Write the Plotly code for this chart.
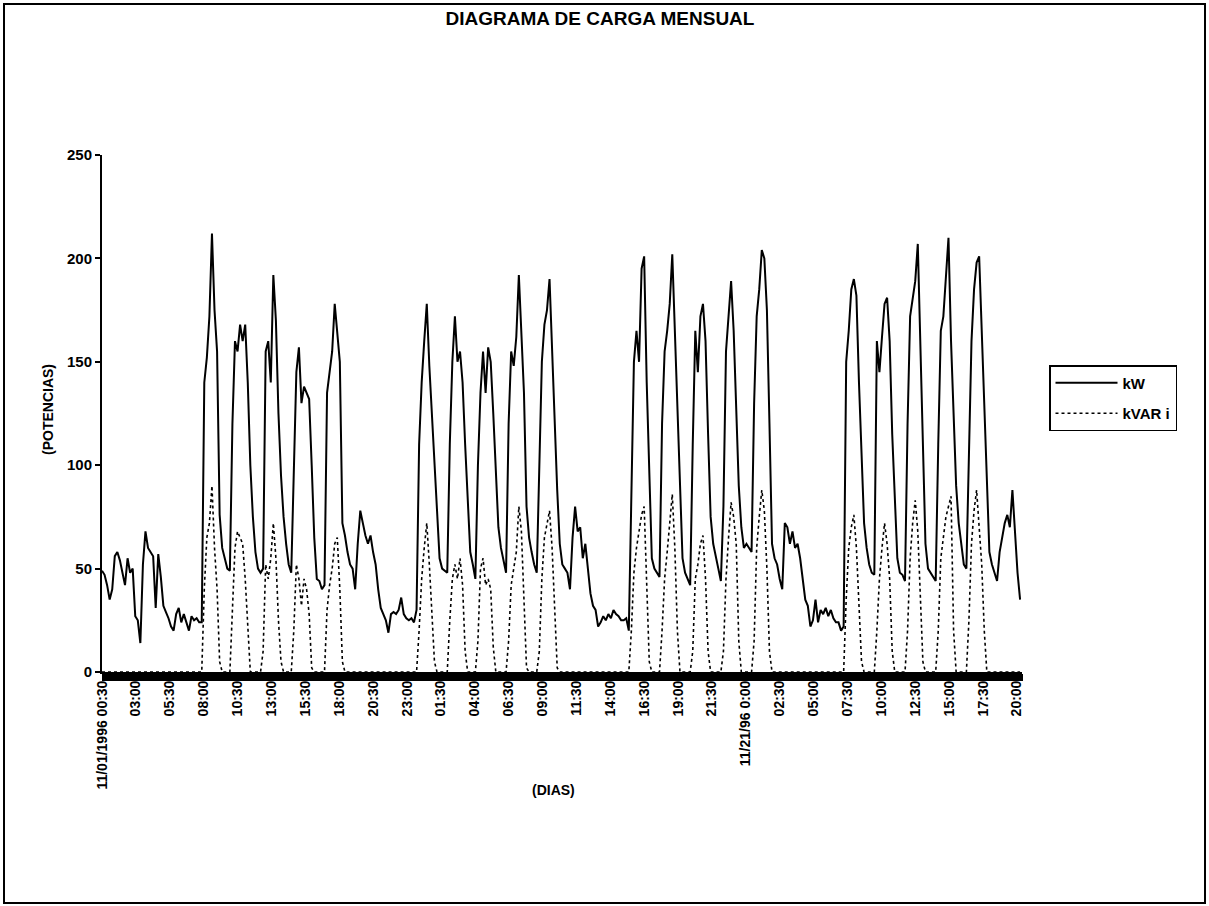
import datetime as dt
import plotly.graph_objects as go

# ---------------- data (2-hour samples, 00:30, 02:30, ... 22:30 each day) ----------------
# kW by week (days 11/01 .. 11/30)
kw_w1 = [
    49, 47, 42, 35, 40, 56, 58, 54, 48, 42, 55, 48,      # 11/01
    50, 27, 25, 14, 52, 68, 60, 58, 56, 31, 57, 46,      # 11/02
    32, 29, 26, 22, 20, 28, 31, 24, 28, 24, 20, 27,      # 11/03
    25, 26, 24, 24, 140, 152, 172, 212, 175, 155, 76, 60,  # 11/04
    55, 50, 49, 120, 160, 155, 168, 160, 168, 140, 100, 75,  # 11/05
    58, 50, 48, 50, 155, 160, 140, 192, 170, 125, 95, 75,  # 11/06
    62, 52, 48, 100, 145, 157, 130, 138, 135, 132, 100, 65,  # 11/07
]
kw_w2 = [
    45, 44, 40, 42, 135, 145, 155, 178, 165, 150, 72, 66,  # 11/08
    58, 52, 50, 40, 62, 78, 72, 66, 62, 66, 58, 52,        # 11/09
    40, 31, 28, 25, 19, 28, 29, 28, 30, 36, 28, 26,        # 11/10
    25, 26, 24, 30, 110, 140, 160, 178, 148, 124, 100, 75,  # 11/11
    55, 50, 49, 48, 110, 150, 172, 150, 155, 140, 110, 80,  # 11/12
    58, 52, 45, 100, 135, 155, 135, 157, 150, 125, 95, 70,  # 11/13
    60, 54, 48, 120, 155, 148, 162, 192, 165, 135, 80, 65,  # 11/14
]
kw_w3 = [
    58, 52, 48, 100, 150, 168, 175, 190, 155, 125, 88, 62,  # 11/15
    52, 50, 48, 40, 65, 80, 68, 70, 55, 62, 50, 38,        # 11/16
    32, 30, 22, 24, 27, 25, 28, 26, 30, 28, 27, 25,        # 11/17
    25, 26, 20, 80, 150, 165, 150, 195, 201, 140, 100, 55,  # 11/18
    50, 48, 46, 120, 155, 165, 178, 202, 165, 120, 85, 55,  # 11/19
    48, 45, 42, 110, 165, 145, 172, 178, 160, 115, 75, 62,  # 11/20
    55, 50, 44, 80, 155, 172, 189, 165, 130, 90, 70, 60,   # 11/21
]
kw_w4 = [
    62, 60, 58, 130, 172, 185, 204, 200, 175, 120, 62, 55,  # 11/22
    52, 45, 40, 72, 70, 62, 68, 60, 62, 55, 45, 35,        # 11/23
    32, 22, 25, 35, 24, 30, 28, 31, 27, 30, 26, 24,        # 11/24
    24, 20, 22, 150, 165, 185, 190, 182, 140, 105, 72, 60,  # 11/25
    52, 48, 47, 160, 145, 162, 178, 181, 160, 115, 80, 55,  # 11/26
    48, 47, 44, 120, 172, 180, 189, 207, 157, 100, 62, 50,  # 11/27
    48, 46, 44, 110, 165, 172, 192, 210, 160, 120, 90, 72,  # 11/28
]
kw_w5 = [
    62, 52, 50, 100, 160, 185, 198, 201, 165, 130, 88, 58,  # 11/29
    52, 48, 44, 58, 66, 72, 76, 70, 88, 68, 48, 35,        # 11/30
]

# kVAR i by week
kvar_w1 = [
    0, 0, 0, 0, 0, 0, 0, 0, 0, 0, 0, 0,
    0, 0, 0, 0, 0, 0, 0, 0, 0, 0, 0, 0,
    0, 0, 0, 0, 0, 0, 0, 0, 0, 0, 0, 0,
    0, 0, 0, 0, 40, 65, 72, 90, 60, 40, 5, 0,
    0, 0, 0, 30, 60, 68, 65, 62, 45, 20, 0, 0,
    0, 0, 0, 10, 52, 45, 55, 72, 55, 25, 5, 0,
    0, 0, 0, 20, 52, 45, 32, 45, 40, 28, 2, 0,
]
kvar_w2 = [
    0, 0, 0, 0, 30, 42, 50, 62, 65, 40, 5, 0,
    0, 0, 0, 0, 0, 0, 0, 0, 0, 0, 0, 0,
    0, 0, 0, 0, 0, 0, 0, 0, 0, 0, 0, 0,
    0, 0, 0, 0, 20, 45, 60, 72, 52, 30, 5, 0,
    0, 0, 0, 0, 25, 45, 52, 45, 55, 42, 10, 0,
    0, 0, 0, 15, 50, 55, 42, 45, 40, 12, 0, 0,
    0, 0, 0, 15, 42, 50, 58, 80, 68, 35, 2, 0,
]
kvar_w3 = [
    0, 0, 0, 10, 45, 65, 72, 78, 60, 30, 2, 0,
    0, 0, 0, 0, 0, 0, 0, 0, 0, 0, 0, 0,
    0, 0, 0, 0, 0, 0, 0, 0, 0, 0, 0, 0,
    0, 0, 0, 20, 48, 60, 68, 76, 80, 40, 5, 0,
    0, 0, 0, 20, 45, 58, 72, 86, 60, 20, 0, 0,
    0, 0, 0, 10, 45, 52, 62, 66, 45, 10, 0, 0,
    0, 0, 0, 10, 45, 65, 82, 75, 62, 15, 0, 0,
]
kvar_w4 = [
    0, 0, 0, 15, 60, 75, 88, 78, 50, 10, 0, 0,
    0, 0, 0, 0, 0, 0, 0, 0, 0, 0, 0, 0,
    0, 0, 0, 0, 0, 0, 0, 0, 0, 0, 0, 0,
    0, 0, 0, 35, 60, 70, 76, 60, 35, 5, 0, 0,
    0, 0, 0, 20, 45, 60, 72, 62, 45, 10, 0, 0,
    0, 0, 0, 20, 55, 72, 83, 68, 40, 5, 0, 0,
    0, 0, 0, 20, 55, 65, 75, 80, 85, 20, 0, 0,
]
kvar_w5 = [
    0, 0, 0, 25, 62, 78, 88, 70, 52, 20, 0, 0,
    0, 0, 0, 0, 0, 0, 0, 0, 0, 0, 0, 0,
]

tick_labels = [
    "11/01/1996 00:30", "03:00", "05:30", "08:00", "10:30", "13:00", "15:30",
    "18:00", "20:30", "23:00", "01:30", "04:00", "06:30", "09:00", "11:30",
    "14:00", "16:30", "19:00", "21:30", "11/21/96 0:00", "02:30", "05:00",
    "07:30", "10:00", "12:30", "15:00", "17:30", "20:00",
]

kw = kw_w1 + kw_w2 + kw_w3 + kw_w4 + kw_w5
kvar = kvar_w1 + kvar_w2 + kvar_w3 + kvar_w4 + kvar_w5

start = dt.datetime(1996, 11, 1, 0, 30)
end = dt.datetime(1996, 12, 1, 0, 0)
times = [start + dt.timedelta(hours=2 * k) for k in range(len(kw))]
# category labels every 53 half-hour records
tick_vals = [start + dt.timedelta(minutes=30 * 53 * k) for k in range(len(tick_labels))]

FONT = "Arial, 'Liberation Sans', sans-serif"

fig = go.Figure()
fig.add_trace(go.Scatter(x=times, y=kw, mode="lines", name="kW", legendgroup="a",
                         line=dict(color="black", width=2)))
fig.add_trace(go.Scatter(x=times, y=kvar, mode="lines", name="kVAR i", legendgroup="b",
                         line=dict(color="black", width=1.6, dash="dot")))

W, H = 1209, 906
L, R, T, B = 102, 1022, 155, 672

fig.update_layout(
    width=W, height=H,
    margin=dict(l=L, r=W - R, t=T, b=H - B, pad=0),
    paper_bgcolor="white", plot_bgcolor="white",
    font=dict(family=FONT, color="black", size=14),
    title=dict(text="<b>DIAGRAMA DE CARGA MENSUAL</b>", x=600 / W, xanchor="center",
               xref="container", yref="container", y=1 - 18 / H, yanchor="middle",
               font=dict(family=FONT, size=19, color="black")),
    showlegend=True,
    legend=dict(x=(1049 - L) / (R - L), y=(B - 365) / (B - T), xanchor="left", yanchor="top",
                bgcolor="white", bordercolor="black", borderwidth=1.5,
                font=dict(family=FONT, size=15, color="black", weight="bold"),
                itemwidth=62, tracegroupgap=8),
    xaxis=dict(
        type="date", range=[start, end], showgrid=False, zeroline=False,
        showline=True, linecolor="black", linewidth=2,
        tickmode="array", tickvals=tick_vals, ticktext=tick_labels,
        tickangle=-90, ticks="outside", ticklen=1, tickcolor="black", tickwidth=1,
        tickfont=dict(family=FONT, size=14, color="black", weight="bold"),
        minor=dict(tickmode="linear", tick0=start, dtick=30 * 60 * 1000,
                   ticks="outside", ticklen=7, tickcolor="black", tickwidth=1,
                   showgrid=False),
    ),
    yaxis=dict(
        range=[0, 250], tickvals=[0, 50, 100, 150, 200, 250], showgrid=False,
        zeroline=False, showline=True, linecolor="black", linewidth=2,
        ticks="outside", ticklen=5, tickwidth=1.5, tickcolor="black",
        tickfont=dict(family=FONT, size=15, color="black", weight="bold"),
    ),
    yaxis2=dict(overlaying="y", matches="y", range=[0, 250], side="left",
                tickvals=[0, 50, 100, 150, 200, 250], ticks="inside", ticklen=5,
                tickwidth=1.5, tickcolor="black", showticklabels=False,
                showgrid=False, zeroline=False, showline=False),
)

fig.add_annotation(text="<b>(POTENCIAS)</b>", xref="paper", yref="paper",
                   x=(38 - L) / (R - L), y=(B - 410) / (B - T), textangle=-90,
                   showarrow=False, font=dict(family=FONT, size=14, color="black"))
fig.add_annotation(text="<b>(DIAS)</b>", xref="paper", yref="paper",
                   x=(553 - L) / (R - L), y=(B - 800) / (B - T),
                   showarrow=False, font=dict(family=FONT, size=14, color="black"))

# outer chart border
fig.add_shape(type="rect", xref="paper", yref="paper",
              x0=(4 - L) / (R - L), x1=(1205 - L) / (R - L),
              y0=(B - 903) / (B - T), y1=(B - 4) / (B - T),
              line=dict(color="black", width=2), fillcolor="rgba(0,0,0,0)")

fig.write_html("out.html", config={"displayModeBar": False},
               post_script="document.body.style.margin='0';document.body.style.overflow='hidden';")
